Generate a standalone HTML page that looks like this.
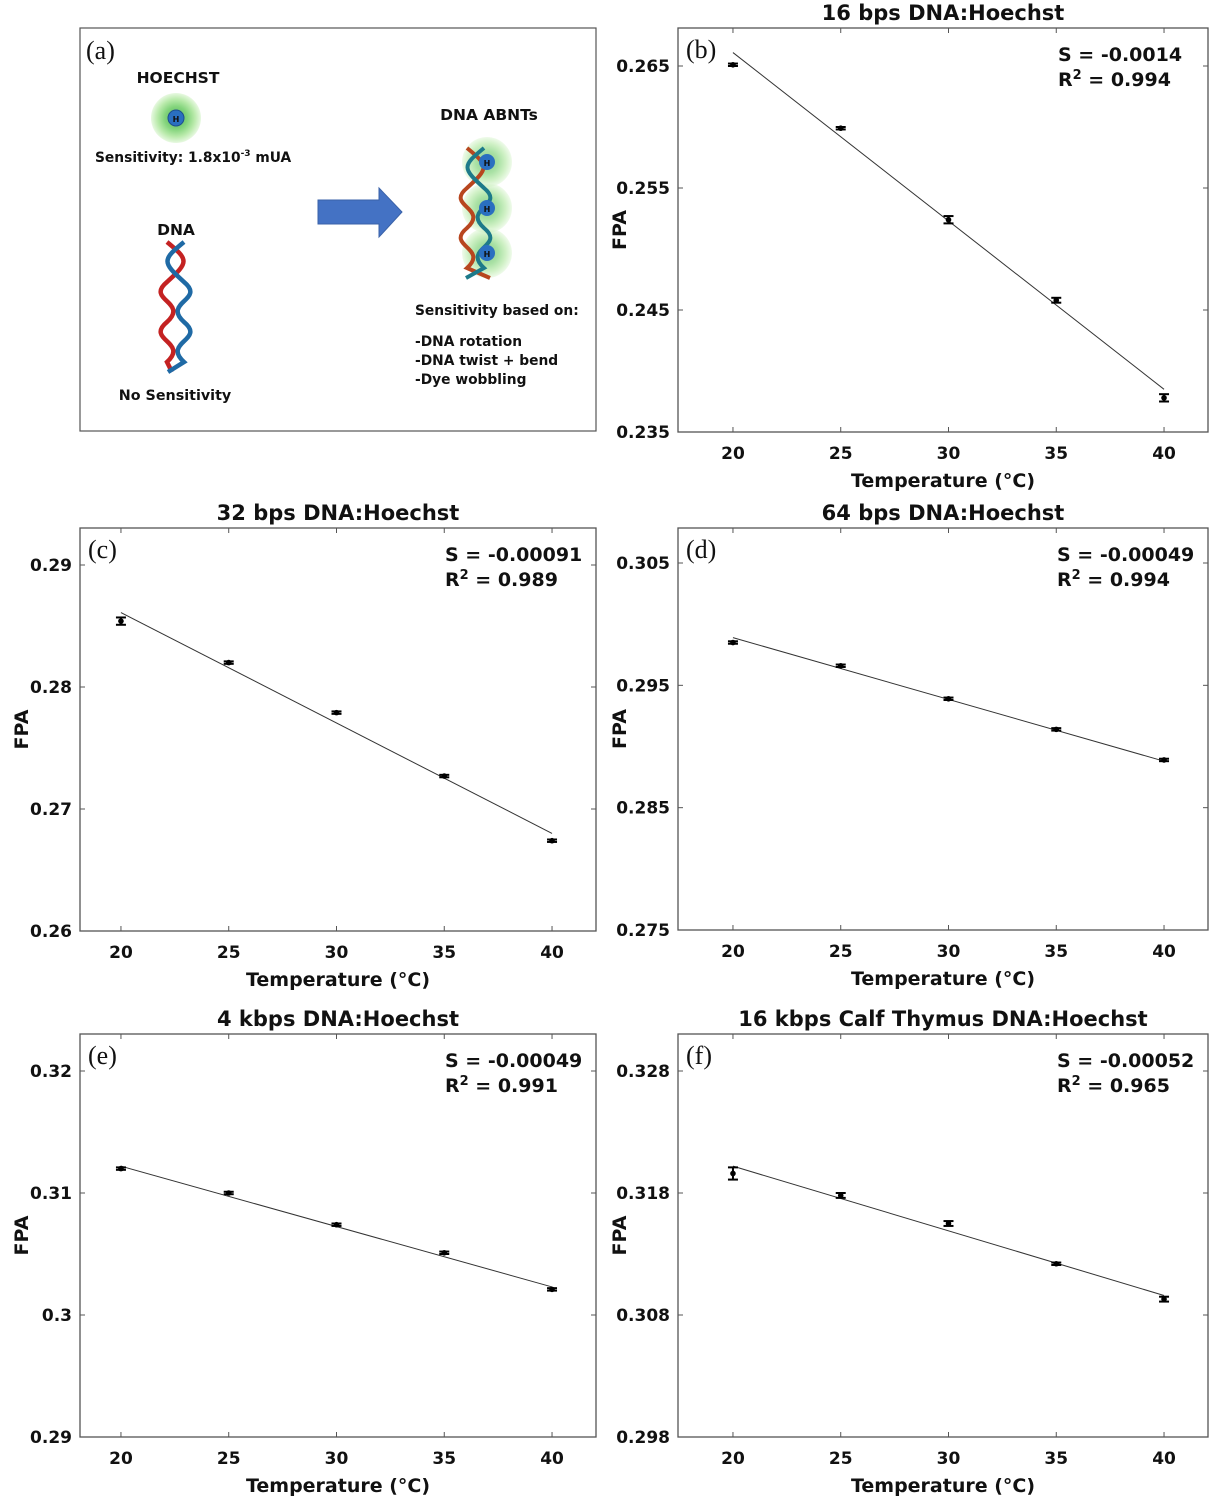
<!DOCTYPE html>
<html><head><meta charset="utf-8">
<style>
html,body{margin:0;padding:0;background:#fff;}
svg{display:block;}
text{font-family:"DejaVu Sans","Liberation Sans",sans-serif;font-weight:bold;fill:#111;}
.serif{font-family:"Liberation Serif",serif;font-weight:normal;}
</style></head>
<body>
<svg id="fig" width="1212" height="1500" viewBox="0 0 1212 1500" xmlns="http://www.w3.org/2000/svg">
<defs>
<radialGradient id="glow" cx="50%" cy="50%" r="50%">
<stop offset="0%" stop-color="#2f9a3a"/><stop offset="45%" stop-color="#63c95a"/><stop offset="75%" stop-color="#a8e596"/><stop offset="100%" stop-color="#e2f7da"/>
</radialGradient>
</defs>
<g>
<rect x="80" y="28" width="516" height="403" fill="#fff" stroke="#555" stroke-width="1.2"/>
<text class="serif" x="86" y="59" font-size="26">(a)</text>
<text x="178" y="83" font-size="15.5" text-anchor="middle">HOECHST</text>
<g>
<circle cx="176" cy="118" r="25" fill="url(#glow)" opacity="0.8"/>
<circle cx="176" cy="118" r="8" fill="#2a6fc0" stroke="#1d4f8e"/>
<text x="176" y="122" font-size="8" text-anchor="middle" fill="#0c2a55">H</text>
</g>
<text x="95" y="162" font-size="13.8">Sensitivity: 1.8x10<tspan dy="-6" font-size="9">-3</tspan><tspan dy="6"> mUA</tspan></text>
<text x="176" y="235" font-size="15.5" text-anchor="middle">DNA</text>
<g fill="none" stroke-width="4.5">
<path d="M167,242 C189,260 189,262 167,282 C145,300 189,302 167,322 C145,340 189,342 167,362 L172,372" stroke="#c42222"/>
<path d="M184,242 C162,260 162,262 184,282 C206,300 162,302 184,322 C206,340 162,342 184,362 L168,372" stroke="#1f6aa5"/>
</g>
<text x="175" y="400" font-size="14.3" text-anchor="middle">No Sensitivity</text>
<polygon points="318,200 379,200 379,188 402,212 379,237 379,224 318,224" fill="#4472c4" stroke="#3a62a8"/>
<text x="489" y="120" font-size="15.5" text-anchor="middle">DNA ABNTs</text>
<g>
<circle cx="487" cy="162" r="25" fill="url(#glow)" opacity="0.55"/>
<circle cx="487" cy="208" r="25" fill="url(#glow)" opacity="0.55"/>
<circle cx="487" cy="253" r="25" fill="url(#glow)" opacity="0.55"/>
<path d="M467,148 C489,166 489,168 467,188 C445,206 489,208 467,228 C445,246 489,248 467,268 L490,278" fill="none" stroke="#b8461f" stroke-width="4"/>
<path d="M484,148 C462,166 462,168 484,188 C506,206 462,208 484,228 C506,246 462,248 484,268 L466,278" fill="none" stroke="#1d7a8a" stroke-width="4"/>
<circle cx="487" cy="162" r="8" fill="#2a6fc0"/><text x="487" y="166" font-size="8" text-anchor="middle" fill="#0c2a55">H</text>
<circle cx="487" cy="208" r="8" fill="#2a6fc0"/><text x="487" y="212" font-size="8" text-anchor="middle" fill="#0c2a55">H</text>
<circle cx="487" cy="253" r="8" fill="#2a6fc0"/><text x="487" y="257" font-size="8" text-anchor="middle" fill="#0c2a55">H</text>
</g>
<text x="415" y="315" font-size="13.8">Sensitivity based on:</text>
<text x="415" y="346" font-size="13.8">-DNA rotation</text>
<text x="415" y="365" font-size="13.8">-DNA twist + bend</text>
<text x="415" y="384" font-size="13.8">-Dye wobbling</text>
</g>
</svg>
<script>
const temps = [20, 25, 30, 35, 40];
const xTicks = [20, 25, 30, 35, 40];
const fpaB = [0.2651, 0.2599, 0.2524, 0.2458, 0.2378];
const errB = [0.0001, 0.0001, 0.0003, 0.0002, 0.0003];
const fitB = [0.2661, 0.2385];
const ticksB = [0.235, 0.245, 0.255, 0.265];
const fpaC = [0.2854, 0.2820, 0.2779, 0.2727, 0.2674];
const errC = [0.0003, 0.0001, 0.0001, 0.0001, 0.0001];
const fitC = [0.2861, 0.2680];
const ticksC = [0.26, 0.27, 0.28, 0.29];
const fpaD = [0.2985, 0.2966, 0.2939, 0.2914, 0.2889];
const errD = [0.0001, 0.0001, 0.0001, 0.0001, 0.0001];
const fitD = [0.2989, 0.2888];
const ticksD = [0.275, 0.285, 0.295, 0.305];
const fpaE = [0.3120, 0.3100, 0.3074, 0.3051, 0.3021];
const errE = [0.0001, 0.0001, 0.0001, 0.0001, 0.0001];
const fitE = [0.3122, 0.3023];
const ticksE = [0.29, 0.30, 0.31, 0.32];
const tickLabelsE = ['0.29', '0.3', '0.31', '0.32'];
const fpaF = [0.3196, 0.3178, 0.3155, 0.3122, 0.3093];
const errF = [0.0005, 0.0002, 0.0002, 0.0001, 0.0002];
const fitF = [0.3202, 0.3096];
const ticksF = [0.298, 0.308, 0.318, 0.328];

const NS = 'http://www.w3.org/2000/svg';
const svg = document.getElementById('fig');
function mk(tag, attrs, parent) {
  const e = document.createElementNS(NS, tag);
  for (const k in attrs) e.setAttribute(k, attrs[k]);
  parent.appendChild(e);
  return e;
}
function panel(o) {
  const g = mk('g', {}, svg);
  
  
  const L = o.box[0], T = o.box[1], R = o.box[2], B = o.box[3];
  const xs = v => L + (v - o.xmin) / (o.xmax - o.xmin) * (R - L);
  const y0 = o.ticks[0], y1 = o.ticks[o.ticks.length - 1];
  const topTickY = T + o.topPad;
  const ys = v => B - (v - y0) / (y1 - y0) * (B - topTickY);
  const frame = mk('rect', {x: L, y: T, width: R - L, height: B - T, fill: 'none', stroke: '#555', 'stroke-width': 1.3}, g);
  
  
  xTicks.forEach(t => {
    const x = xs(t);
    mk('line', {x1: x, x2: x, y1: B, y2: B - 5, stroke: '#555'}, g);
    mk('line', {x1: x, x2: x, y1: T, y2: T + 5, stroke: '#555'}, g);
    const tx = mk('text', {x: x, y: B + 27, 'font-size': 17, 'text-anchor': 'middle'}, g);
    tx.textContent = t;
    
    
  });
  o.ticks.forEach((t, i) => {
    const y = ys(t);
    mk('line', {x1: L, x2: L + 5, y1: y, y2: y, stroke: '#555'}, g);
    mk('line', {x1: R, x2: R - 5, y1: y, y2: y, stroke: '#555'}, g);
    const tx = mk('text', {x: L - 8, y: y + 6, 'font-size': 17, 'text-anchor': 'end'}, g);
    tx.textContent = o.tickLabels ? o.tickLabels[i] : String(t);
    
    
  });
  const ttl = mk('text', {x: (L + R) / 2, y: T - 8, 'font-size': 21, 'text-anchor': 'middle'}, g);
  ttl.textContent = o.title;
  
  
  const xl = mk('text', {x: (L + R) / 2, y: B + 55, 'font-size': 19, 'text-anchor': 'middle', fill: '#222'}, g);
  xl.textContent = 'Temperature (°C)';
  
  
  const yl = mk('text', {x: 0, y: 0, 'font-size': 19, 'text-anchor': 'middle', transform: 'translate(' + (L - 52) + ',' + ((T + B) / 2) + ') rotate(-90)'}, g);
  yl.textContent = 'FPA';
  
  
  const lab = mk('text', {x: L + 8, y: T + 30, 'font-size': 26, class: 'serif'}, g);
  lab.textContent = '(' + o.id + ')';
  
  
  const fit = mk('line', {x1: xs(temps[0]), x2: xs(temps[temps.length - 1]), y1: ys(o.fit[0]), y2: ys(o.fit[1]), stroke: '#333', 'stroke-width': 1}, g);
  
  
  temps.forEach((t, i) => {
    const x = xs(t), yv = ys(o.vals[i]);
    const yt = ys(o.vals[i] + o.err[i]), yb = ys(o.vals[i] - o.err[i]);
    const eg = mk('g', {}, g);
    
    
    mk('line', {x1: x, x2: x, y1: yt, y2: yb, stroke: '#000', 'stroke-width': 2}, eg);
    mk('line', {x1: x - 5, x2: x + 5, y1: yt, y2: yt, stroke: '#000', 'stroke-width': 2}, eg);
    mk('line', {x1: x - 5, x2: x + 5, y1: yb, y2: yb, stroke: '#000', 'stroke-width': 2}, eg);
    mk('circle', {cx: x, cy: yv, r: 2.8, fill: '#000'}, eg);
  });
  const ax = R - o.annW;
  const s = mk('text', {x: ax, y: T + 33, 'font-size': 19, 'text-anchor': 'start'}, g);
  s.textContent = o.s;
  
  
  const r = mk('text', {x: ax, y: T + 58, 'font-size': 19, 'text-anchor': 'start'}, g);
  r.innerHTML = 'R<tspan dy="-7" font-size="13">2</tspan><tspan dy="7"> = ' + o.r2 + '</tspan>';
  
  
}
panel({id: 'b', title: '16 bps DNA:Hoechst', box: [678, 28, 1208, 432], xmin: 17.45, xmax: 42.04, ticks: ticksB, topPad: 38, vals: fpaB, err: errB, fit: fitB, s: 'S = -0.0014', r2: '0.994', annW: 150});
panel({id: 'c', title: '32 bps DNA:Hoechst', box: [80, 528, 596, 931], xmin: 18.1, xmax: 42.04, ticks: ticksC, topPad: 37, vals: fpaC, err: errC, fit: fitC, s: 'S = -0.00091', r2: '0.989', annW: 151});
panel({id: 'd', title: '64 bps DNA:Hoechst', box: [678, 528, 1208, 930], xmin: 17.45, xmax: 42.04, ticks: ticksD, topPad: 35, vals: fpaD, err: errD, fit: fitD, s: 'S = -0.00049', r2: '0.994', annW: 151});
panel({id: 'e', title: '4 kbps DNA:Hoechst', box: [80, 1034, 596, 1437], xmin: 18.1, xmax: 42.04, ticks: ticksE, tickLabels: tickLabelsE, topPad: 37, vals: fpaE, err: errE, fit: fitE, s: 'S = -0.00049', r2: '0.991', annW: 151});
panel({id: 'f', title: '16 kbps Calf Thymus DNA:Hoechst', box: [678, 1034, 1208, 1437], xmin: 17.45, xmax: 42.04, ticks: ticksF, topPad: 37, vals: fpaF, err: errF, fit: fitF, s: 'S = -0.00052', r2: '0.965', annW: 151});
</script>
</body></html>
